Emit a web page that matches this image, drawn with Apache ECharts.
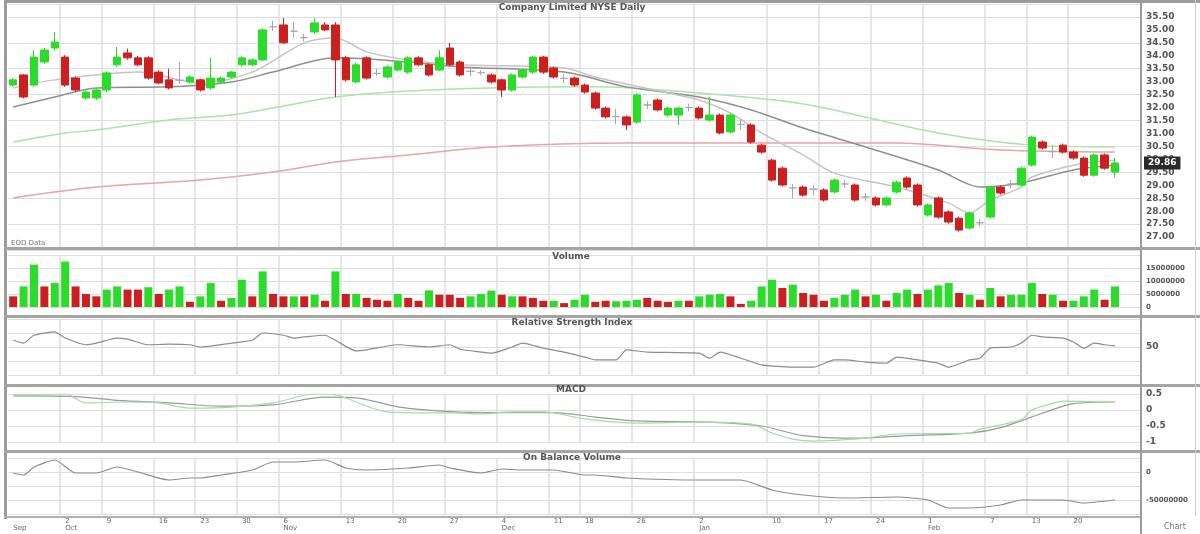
<!DOCTYPE html>
<html>
<head>
<meta charset="utf-8">
<title>Daily chart</title>
<script src="https://cdn.jsdelivr.net/npm/echarts@6/dist/echarts.min.js"></script>
<style>
  html, body { margin: 0; padding: 0; background: #fff; }
  #chart { width: 1200px; height: 534px; }
</style>
</head>
<body>
<div id="chart"></div>
<script>
// daily candles: [open, close, low, high]
const candles = [
  [32.87, 33.07, 32.80, 33.15], [33.26, 32.41, 32.35, 33.30], [32.87, 33.95, 32.80, 34.22], [33.76, 34.22, 33.70, 34.30],
  [34.30, 34.53, 34.20, 34.92], [33.95, 32.87, 32.80, 34.02], [33.14, 32.68, 32.60, 33.20], [32.37, 32.60, 32.30, 32.66],
  [32.37, 32.68, 32.30, 32.75], [32.68, 33.34, 32.60, 33.40], [33.65, 33.95, 33.58, 34.34], [34.11, 33.92, 33.85, 34.28],
  [33.92, 33.65, 33.60, 34.00], [33.92, 33.14, 33.08, 33.98], [33.37, 32.95, 32.90, 33.45], [33.07, 32.76, 32.70, 33.50],
  [33.05, 33.05, 32.92, 33.76], [32.99, 33.18, 32.93, 33.25], [33.07, 32.68, 32.62, 33.12], [32.76, 33.14, 32.70, 33.92],
  [32.99, 33.14, 32.94, 33.20], [33.18, 33.37, 33.12, 33.42], [33.65, 33.92, 33.58, 33.98], [33.65, 33.84, 33.60, 33.90],
  [33.84, 35.00, 33.80, 35.06], [35.12, 35.12, 34.95, 35.35], [35.19, 34.50, 34.45, 35.46], [34.95, 34.95, 34.70, 35.30],
  [34.70, 34.70, 34.55, 34.85], [34.92, 35.27, 34.85, 35.46], [35.19, 35.00, 34.95, 35.30], [35.19, 33.84, 32.41, 35.30],
  [33.92, 33.07, 33.00, 34.00], [32.99, 33.65, 32.93, 33.72], [33.92, 33.14, 33.08, 33.98], [33.32, 33.32, 33.20, 33.50],
  [33.18, 33.57, 33.12, 33.63], [33.45, 33.76, 33.40, 33.82], [33.37, 33.92, 33.30, 33.98], [33.92, 33.65, 33.60, 33.98],
  [33.65, 33.26, 33.20, 33.70], [33.45, 33.92, 33.40, 34.22], [34.30, 33.65, 33.60, 34.50], [33.76, 33.26, 33.20, 33.82],
  [33.40, 33.40, 33.22, 33.58], [33.35, 33.35, 33.25, 33.45], [33.26, 32.99, 32.93, 33.32], [33.07, 32.68, 32.41, 33.12],
  [32.68, 33.26, 32.62, 33.32], [33.18, 33.45, 33.12, 33.50], [33.37, 33.95, 33.30, 34.00], [33.95, 33.37, 33.30, 34.00],
  [33.53, 33.18, 33.12, 33.58], [33.13, 33.13, 32.95, 33.30], [33.14, 32.87, 32.80, 33.20], [32.87, 32.60, 32.54, 32.93],
  [32.56, 31.98, 31.92, 32.62], [31.98, 31.64, 31.58, 32.04], [31.65, 31.65, 31.35, 31.95], [31.64, 31.33, 31.13, 31.70],
  [31.44, 32.49, 31.38, 32.55], [32.10, 32.10, 31.95, 32.25], [32.29, 31.91, 31.85, 32.35], [31.71, 31.98, 31.65, 32.04],
  [31.71, 31.98, 31.33, 32.04], [32.00, 32.00, 31.85, 32.15], [31.98, 31.60, 31.54, 32.04], [31.52, 31.71, 31.46, 32.41],
  [31.71, 31.02, 30.96, 31.77], [31.06, 31.71, 31.00, 31.77], [31.35, 31.35, 31.15, 31.55], [31.33, 30.67, 30.60, 31.39],
  [30.55, 30.28, 30.22, 30.61], [29.97, 29.20, 29.14, 30.03], [29.66, 29.01, 28.95, 29.72], [28.90, 28.90, 28.50, 29.05],
  [28.93, 28.62, 28.56, 28.99], [28.85, 28.85, 28.60, 29.00], [28.82, 28.43, 28.37, 28.88], [28.74, 29.20, 28.68, 29.26],
  [29.05, 29.05, 28.90, 29.20], [29.01, 28.43, 28.37, 29.07], [28.55, 28.55, 28.40, 28.70], [28.51, 28.24, 28.18, 28.57],
  [28.24, 28.51, 28.18, 28.57], [28.74, 29.12, 28.68, 29.18], [29.28, 28.93, 28.87, 29.34], [29.01, 28.24, 28.18, 29.07],
  [27.85, 28.24, 27.79, 28.30], [28.51, 27.77, 27.71, 28.57], [27.97, 27.58, 27.52, 28.03], [27.73, 27.27, 27.21, 27.79],
  [27.35, 27.93, 27.29, 27.99], [27.55, 27.55, 27.40, 27.70], [27.77, 28.93, 27.71, 28.99], [28.93, 28.70, 28.64, 28.99],
  [29.05, 29.05, 28.90, 29.20], [29.01, 29.66, 28.95, 29.72], [29.78, 30.86, 29.72, 30.92], [30.67, 30.44, 30.38, 30.73],
  [30.30, 30.30, 30.05, 30.55], [30.55, 30.28, 30.22, 30.61], [30.28, 30.05, 29.99, 30.34], [30.05, 29.39, 29.33, 30.11],
  [29.39, 30.17, 29.33, 30.23], [30.17, 29.66, 29.60, 30.23], [29.51, 29.86, 29.30, 30.05]
];

// moving averages, [day index, value]
const ma10 = [[0, 32.76], [4, 33.07], [12, 33.37], [18, 32.95], [23, 33.37], [28, 34.50], [31, 34.69], [34, 34.15],
  [38, 33.84], [43, 33.65], [53, 33.53], [56, 33.18], [63, 32.56], [66, 32.29], [69, 31.79], [72, 31.02], [76, 30.17],
  [79, 29.47], [85, 28.93], [90, 28.31], [92, 27.93], [94, 28.43], [97, 28.93], [98, 29.32], [103, 29.86], [106, 29.97]];
const ma20 = [[0, 32.02], [4, 32.41], [8, 32.76], [15, 32.80], [21, 32.99], [25, 33.37], [31, 33.92], [38, 33.76],
  [43, 33.57], [53, 33.37], [59, 32.80], [66, 32.41], [71, 31.91], [76, 31.21], [82, 30.48], [89, 29.59], [93, 28.93],
  [97, 29.09], [102, 29.59], [106, 29.78]];
const ma50 = [[0, 30.67], [5, 31.02], [8, 31.13], [15, 31.52], [21, 31.71], [25, 31.98], [31, 32.41], [38, 32.64],
  [46, 32.76], [56, 32.80], [66, 32.56], [76, 32.14], [89, 31.02], [98, 30.55], [106, 30.48]];
const ma200 = [[0, 28.51], [8, 28.93], [18, 29.20], [25, 29.51], [31, 29.90], [38, 30.17], [46, 30.48], [59, 30.63],
  [76, 30.63], [85, 30.63], [95, 30.36], [106, 30.28]];

// volume in millions, and bar colour (G up / R down)
const volume = [
  4.1, 7.9, 16.3, 7.9, 9.2, 17.5, 7.9, 5.0, 4.1, 6.7,
  7.9, 6.7, 6.7, 7.6, 5.0, 6.7, 7.9, 2.0, 4.1, 9.2,
  2.4, 3.5, 10.5, 4.1, 13.7, 5.0, 4.1, 4.1, 4.1, 4.7,
  2.4, 13.7, 5.0, 5.0, 3.5, 2.8, 2.4, 5.0, 3.5, 2.4,
  6.4, 4.7, 4.7, 3.5, 4.1, 5.0, 6.3, 4.7, 4.1,
  4.1, 3.5, 2.4, 2.4, 1.5, 2.8, 4.7, 2.0, 2.4, 2.2,
  2.4, 2.8, 3.5, 2.4, 2.0, 2.4, 2.4, 4.1, 4.7, 5.0,
  4.1, 1.2, 2.4, 7.9, 10.5, 7.3, 8.6, 5.4, 4.7, 2.4,
  3.5, 4.7, 6.7, 4.1, 4.7, 2.4, 5.4, 6.7, 5.0, 6.7,
  8.3, 9.2, 5.4, 4.7, 2.8, 7.3, 4.1, 4.7, 4.7, 9.2,
  5.0, 4.7, 2.4, 2.4, 4.1, 6.7, 2.8, 7.9
];
const volumeSide = "RGGRGGRRRG" + "GRRGRGGRGG" + "RGGRGRRGRG" + "RGRGRRRGRR" + "GRRRGGGRG" +
  "RRRGRGGRRG" + "GGRRRGRGGG" + "RRGGGRGRRR" + "GGGRGRGGRG" + "GGRGRGRGGG" + "RGRGGGRG";

const rsi = [[0, 62], [1, 57], [2, 71], [4, 77], [5, 66], [7, 54], [8, 57], [10, 66], [11, 64], [13, 54], [15, 55],
  [17, 54], [18, 50], [21, 57], [23, 62], [24, 75], [26, 71], [27, 66], [28, 68], [30, 71], [31, 62], [33, 43],
  [34, 45], [37, 54], [40, 50], [42, 54], [43, 46], [45, 41], [46, 39], [48, 50], [49, 57], [51, 48], [53, 41],
  [55, 32], [56, 27], [58, 27], [59, 45], [61, 41], [66, 39], [67, 30], [68, 41], [70, 30], [72, 18], [75, 14],
  [77, 14], [79, 27], [80, 27], [82, 23], [84, 21], [85, 32], [87, 27], [89, 21], [90, 14], [92, 27], [93, 30],
  [94, 48], [96, 50], [97, 57], [98, 71], [99, 68], [101, 66], [102, 59], [103, 48], [104, 57], [105, 54], [106, 52]];

const macd = [[0, 0.47], [5, 0.5], [7, 0.22], [11, 0.25], [14, 0.22], [17, 0.06], [21, 0.09], [25, 0.22], [29, 0.5],
  [31, 0.47], [34, 0.12], [36, -0.06], [40, -0.09], [42, -0.09], [45, -0.12], [48, -0.06], [51, -0.06], [55, -0.28],
  [58, -0.38], [60, -0.41], [66, -0.38], [71, -0.44], [73, -0.72], [75, -0.91], [77, -0.97], [82, -0.88], [85, -0.75],
  [92, -0.72], [93, -0.6], [97, -0.3], [98, 0.0], [100, 0.2], [101, 0.28], [106, 0.25]];
const signal = [[0, 0.44], [6, 0.42], [10, 0.3], [15, 0.22], [20, 0.12], [25, 0.16], [30, 0.4], [33, 0.38], [37, 0.1],
  [42, -0.05], [47, -0.08], [52, -0.08], [56, -0.22], [60, -0.34], [67, -0.38], [72, -0.5], [76, -0.8], [81, -0.88],
  [86, -0.8], [92, -0.72], [95, -0.55], [99, -0.1], [102, 0.2], [106, 0.25]];

// on balance volume in millions
const obv = [[0, -1.8], [1, -5.4], [2, 8.9], [4, 21.4], [6, -1.8], [8, -1.8], [10, 8.9], [12, 0], [15, -14.3],
  [17, -10.7], [18, -10.7], [20, -5.4], [23, 3.6], [25, 17.9], [27, 17.9], [30, 21.4], [32, 7.1], [34, 3.6], [38, 7.1],
  [41, 12.5], [42, 7.1], [45, -1.8], [47, 5.4], [49, 3.6], [52, 3.6], [55, -5.4], [56, -5.4], [59, -10.7], [66, -14.3],
  [70, -14.3], [73, -32.1], [76, -41.1], [80, -46.4], [85, -44.6], [88, -50], [90, -64.3], [92, -64.3], [95, -58.9],
  [97, -50], [101, -50], [103, -55.4], [106, -50]];

// date axis: 107 trading days + 2 empty slots
const categories = Array.from({ length: 109 }, (_, i) => String(i));
const gridTicks = [5, 9, 14, 18, 22, 26, 32, 37, 42, 47, 52, 55, 60, 66, 73, 78, 83, 88, 94, 98, 102];
const labelTicks = [0, 5, 9, 14, 18, 22, 26, 32, 37, 42, 47, 52, 55, 60, 66, 73, 78, 83, 88, 94, 98, 102];
const tickLabels = ['\nSep', '2\nOct', '9', '16', '23', '30', '6\nNov', '13', '20', '27', '4\nDec', '11', '18',
  '26', '2\nJan', '10', '17', '24', '1\nFeb', '7', '13', '20'];

const UP = '#2bdc2b';
const DOWN = '#cc2020';
const GRID_LINE = '#dedede';
const labelFont = { color: '#555', fontSize: 9, fontWeight: 'bold', fontFamily: 'DejaVu Sans', margin: 5 };
const smallFont = { color: '#555', fontSize: 7, fontWeight: 'bold', fontFamily: 'DejaVu Sans', margin: 5 };

const tickLookup = {};
labelTicks.forEach((t, k) => { tickLookup[t] = tickLabels[k]; });
const lastClose = candles[candles.length - 1][1];

var myChart = echarts.init(document.getElementById('chart'));

// 5 stacked panels sharing the date axis
const tops = [4, 255, 319, 394, 458];
const heights = [246, 52, 56, 48, 56];

const xAxes = tops.map((t, g) => ({
  type: 'category',
  gridIndex: g,
  data: categories,
  boundaryGap: true,
  axisLine: { show: false },
  axisTick: { show: false },
  axisLabel: g === 4 ? {
    show: true,
    interval: (i) => tickLookup[i] !== undefined,
    formatter: (v, i) => tickLookup[i] || '',
    align: 'left',
    color: '#666',
    fontSize: 7,
    lineHeight: 7,
    fontFamily: 'DejaVu Sans',
    margin: 4
  } : { show: false },
  splitLine: {
    show: true,
    interval: (i) => gridTicks.includes(i),
    lineStyle: { color: GRID_LINE, width: 1.5 }
  }
}));

function yBase(extra) {
  return Object.assign({
    type: 'value',
    position: 'right',
    axisLine: { show: false },
    axisTick: { show: false },
    splitLine: { show: true, lineStyle: { color: GRID_LINE, width: 1 } }
  }, extra);
}

myChart.setOption({
  animation: false,
  backgroundColor: '#fff',
  grid: tops.map((t, g) => ({ left: 8, right: 59, top: t, height: heights[g] })),
  xAxis: xAxes,
  yAxis: [
    // price grid lines
    yBase({ gridIndex: 0, min: 26.5, max: 36, interval: 1, axisLabel: { show: false } }),
    // price labels
    yBase({
      gridIndex: 0, min: 26.5, max: 36, interval: 0.5, splitLine: { show: false },
      axisLabel: Object.assign({ formatter: (v) => v.toFixed(2), showMinLabel: false, showMaxLabel: false }, labelFont)
    }),
    // volume
    yBase({
      gridIndex: 1, min: 0, max: 20, interval: 5,
      axisLabel: Object.assign({ formatter: (v) => String(v * 1000000), showMaxLabel: false }, smallFont)
    }),
    // RSI
    yBase({
      gridIndex: 2, min: 0, max: 100, interval: 25,
      axisLabel: Object.assign({ formatter: (v) => (v === 50 ? '50' : '') }, labelFont)
    }),
    // MACD
    yBase({
      gridIndex: 3, min: -1, max: 0.5, interval: 0.5,
      axisLabel: Object.assign({ formatter: (v) => String(v) }, labelFont)
    }),
    // OBV
    yBase({
      gridIndex: 4, min: -75, max: 25, interval: 25,
      axisLabel: Object.assign({ formatter: (v) => (v === 0 ? '0' : v === -50 ? String(v * 1000000) : '') }, smallFont)
    })
  ],
  series: [
    {
      type: 'line', xAxisIndex: 0, yAxisIndex: 0, data: ma200, showSymbol: false, smooth: 0.3, z: 1,
      lineStyle: { color: '#eba3a3', width: 1.5 }
    },
    {
      type: 'line', xAxisIndex: 0, yAxisIndex: 0, data: ma50, showSymbol: false, smooth: 0.3, z: 1,
      lineStyle: { color: '#a9e4a9', width: 1.5 }
    },
    {
      type: 'line', xAxisIndex: 0, yAxisIndex: 0, data: ma20, showSymbol: false, smooth: 0.3, z: 1,
      lineStyle: { color: '#8f8f8f', width: 1.5 }
    },
    {
      type: 'line', xAxisIndex: 0, yAxisIndex: 0, data: ma10, showSymbol: false, smooth: 0.3, z: 1,
      lineStyle: { color: '#c4c4c4', width: 1.5 }
    },
    {
      type: 'candlestick', xAxisIndex: 0, yAxisIndex: 0, data: candles, barWidth: 8, z: 3,
      itemStyle: {
        color: UP, color0: DOWN, borderColor: UP, borderColor0: DOWN,
        borderColorDoji: '#a8a8a8', borderWidth: 1
      },
      markLine: {
        silent: true,
        symbol: ['none', 'none'],
        data: [{ yAxis: lastClose }],
        lineStyle: { color: 'transparent' },
        label: {
          position: 'end', distance: 3, formatter: (p) => p.value.toFixed(2),
          backgroundColor: '#2a2a2a', color: '#fff', fontSize: 9, fontWeight: 'bold',
          fontFamily: 'DejaVu Sans', padding: [2, 4]
        }
      }
    },
    {
      type: 'bar', xAxisIndex: 1, yAxisIndex: 2, barWidth: 8,
      data: volume.map((v, i) => ({ value: v, itemStyle: { color: volumeSide[i] === 'G' ? UP : DOWN } }))
    },
    {
      type: 'line', xAxisIndex: 2, yAxisIndex: 3, data: rsi, showSymbol: false, smooth: 0.2,
      lineStyle: { color: '#8c8c8c', width: 1.2 }
    },
    {
      type: 'line', xAxisIndex: 3, yAxisIndex: 4, data: signal, showSymbol: false, smooth: 0.3,
      lineStyle: { color: '#9a9a9a', width: 1.2 }
    },
    {
      type: 'line', xAxisIndex: 3, yAxisIndex: 4, data: macd, showSymbol: false, smooth: 0.3,
      lineStyle: { color: '#9fe09f', width: 1.2 }
    },
    {
      type: 'line', xAxisIndex: 4, yAxisIndex: 5, data: obv, showSymbol: false, smooth: 0.2,
      lineStyle: { color: '#8c8c8c', width: 1.2 }
    }
  ],
  graphic: [
    // frame and panel separators
    { type: 'rect', z: 100, shape: { x: 4, y: 0, width: 1196, height: 3 }, style: { fill: '#9c9c9c' } },
    { type: 'rect', z: 100, shape: { x: 4, y: 0, width: 3, height: 519 }, style: { fill: '#9c9c9c' } },
    { type: 'rect', z: 100, shape: { x: 4, y: 247, width: 1196, height: 3 }, style: { fill: '#a4a4a4' } },
    { type: 'rect', z: 100, shape: { x: 4, y: 315, width: 1196, height: 3 }, style: { fill: '#a4a4a4' } },
    { type: 'rect', z: 100, shape: { x: 4, y: 384, width: 1196, height: 3 }, style: { fill: '#a4a4a4' } },
    { type: 'rect', z: 100, shape: { x: 4, y: 450, width: 1196, height: 3 }, style: { fill: '#a4a4a4' } },
    { type: 'rect', z: 100, shape: { x: 4, y: 516, width: 1137, height: 2 }, style: { fill: '#b0b0b0' } },
    { type: 'rect', z: 100, shape: { x: 1140, y: 0, width: 2, height: 534 }, style: { fill: '#9c9c9c' } },
    { type: 'rect', z: 100, shape: { x: 1195, y: 0, width: 1, height: 516 }, style: { fill: '#d0d0d0' } },
    // panel titles
    { type: 'text', z: 101, x: 572, y: 8, style: { text: 'Company Limited NYSE Daily', fill: '#555', font: 'bold 9px DejaVu Sans', textAlign: 'center', textVerticalAlign: 'middle', align: 'center', verticalAlign: 'middle' } },
    { type: 'text', z: 101, x: 571, y: 257, style: { text: 'Volume', fill: '#555', font: 'bold 9px DejaVu Sans', textAlign: 'center', textVerticalAlign: 'middle', align: 'center', verticalAlign: 'middle' } },
    { type: 'text', z: 101, x: 572, y: 323, style: { text: 'Relative Strength Index', fill: '#555', font: 'bold 9px DejaVu Sans', textAlign: 'center', textVerticalAlign: 'middle', align: 'center', verticalAlign: 'middle' } },
    { type: 'text', z: 101, x: 571, y: 390, style: { text: 'MACD', fill: '#555', font: 'bold 9px DejaVu Sans', textAlign: 'center', textVerticalAlign: 'middle', align: 'center', verticalAlign: 'middle' } },
    { type: 'text', z: 101, x: 572, y: 458, style: { text: 'On Balance Volume', fill: '#555', font: 'bold 9px DejaVu Sans', textAlign: 'center', textVerticalAlign: 'middle', align: 'center', verticalAlign: 'middle' } },
    { type: 'text', z: 101, x: 11, y: 243, style: { text: 'EOD Data', fill: '#777', font: '7px DejaVu Sans', textVerticalAlign: 'middle', verticalAlign: 'middle' } },
    { type: 'text', z: 101, x: 1175, y: 527, style: { text: 'Chart', fill: '#777', font: '8px DejaVu Sans', textAlign: 'center', textVerticalAlign: 'middle', align: 'center', verticalAlign: 'middle' } }
  ]
});
</script>
</body>
</html>
